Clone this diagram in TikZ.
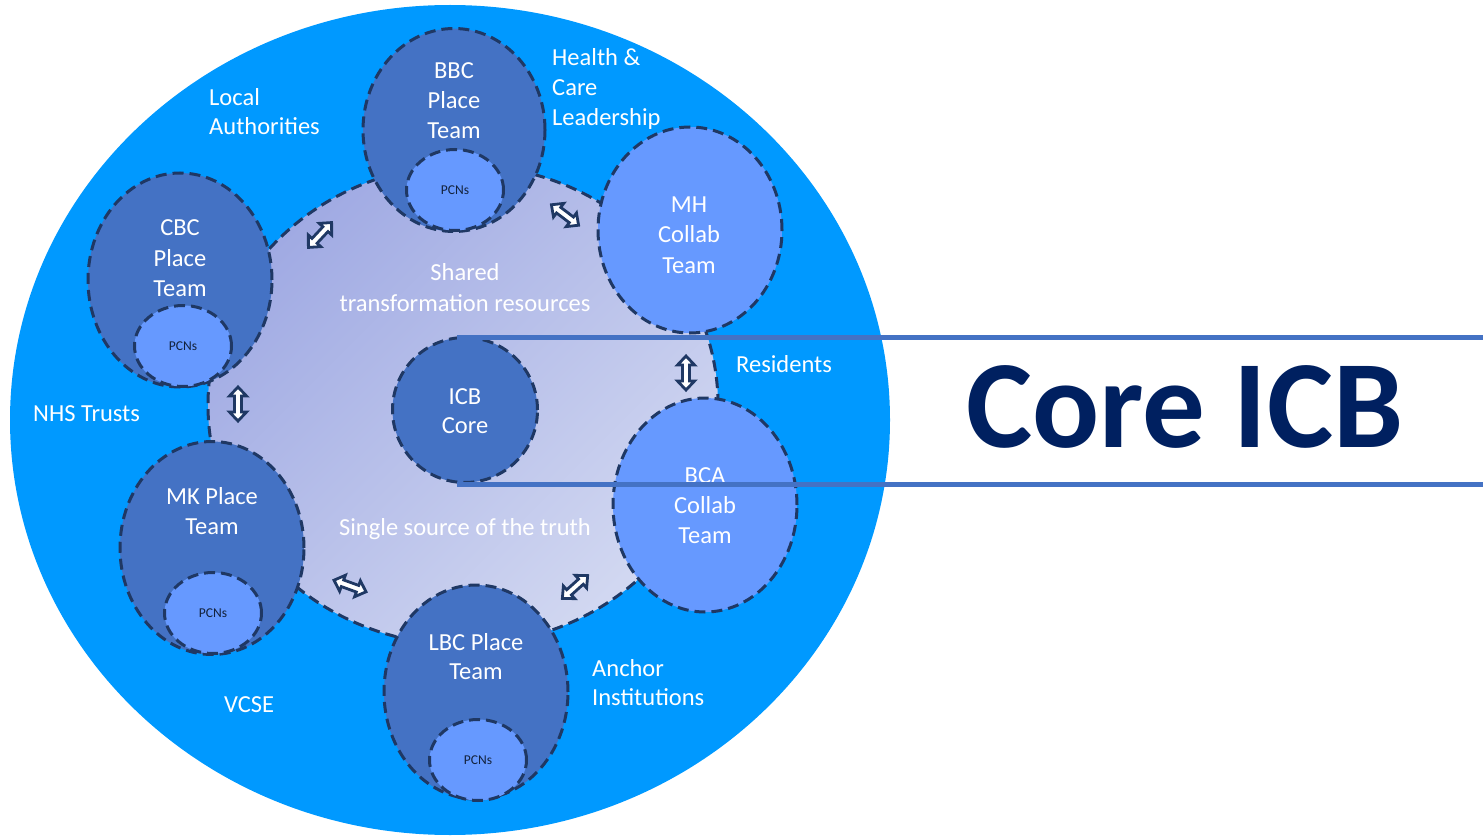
\documentclass[tikz,border=0pt]{standalone}
\usepackage{fontspec}
\setmainfont{Carlito}
\usetikzlibrary{shapes.geometric}
\definecolor{outerblue}{HTML}{0099FF}
\definecolor{darkell}{HTML}{4472C4}
\definecolor{lightell}{HTML}{6699FF}
\definecolor{lavA}{HTML}{A0AAE3}
\definecolor{lavB}{HTML}{D2D8F1}
\definecolor{navyline}{HTML}{1F3864}
\definecolor{titlenavy}{HTML}{002060}
\definecolor{rulecol}{HTML}{4472C4}
\newcommand\dblarrowat[4]{%
  \begin{scope}[shift={(#1,#2)}, rotate=#3]
    \draw[arrowst] (-17,0) -- (-8,-8.5) -- (-8,-3.5) -- (8,-3.5) -- (8,-8.5) -- (17,0)
      -- (8,8.5) -- (8,3.5) -- (-8,3.5) -- (-8,8.5) -- cycle;
    \coordinate (#4) at (0,0);
  \end{scope}}
\begin{document}
\begin{tikzpicture}[x=1pt,y=-1pt,
  dline/.style={draw=navyline, line width=3pt, dash pattern=on 11pt off 6pt},
  darkellipse/.style={ellipse, dline, fill=darkell, inner sep=0pt},
  lightellipse/.style={ellipse, dline, fill=lightell, inner sep=0pt},
  pcn/.style={ellipse, dline, fill=lightell, inner sep=0pt, minimum width=97pt, minimum height=81pt,
    font=\fontsize{13.5}{14}\selectfont, text=navyline!60!black},
  arrowst/.style={draw=navyline, fill=white, line width=2.8pt, line join=miter},
  lbl/.style={text=white, font=\fontsize{24.5}{29.5}\selectfont, inner sep=0pt, anchor=base},
  lblw/.style={lbl, anchor=base west},
  rule/.style={draw=rulecol, line width=5pt}
]
\useasboundingbox (0,0) rectangle (1483,837);
% outer circle
\node[ellipse, fill=outerblue, inner sep=0pt, minimum width=880pt, minimum height=830pt] (outer) at (450,420) {};
% inner shared area
\shade[top color=lavA, bottom color=lavB, shading angle=45] (463,405) ellipse [x radius=255pt, y radius=240pt];
\draw[dline] (463,405) ellipse [x radius=255pt, y radius=240pt];
% core
\node[darkellipse, minimum width=145pt, minimum height=145pt] (icb) at (465,410) {};
% place teams
\node[darkellipse, minimum width=182pt, minimum height=203pt] (bbc) at (454,130) {};
\node[pcn] (bbcp) at (455,190) {PCNs};
\node[darkellipse, minimum width=184pt, minimum height=214pt] (cbc) at (180,280) {};
\node[pcn] (cbcp) at (183,346) {PCNs};
\node[darkellipse, minimum width=184pt, minimum height=213pt] (mk) at (212,548) {};
\node[pcn] (mkp) at (213,613) {PCNs};
\node[darkellipse, minimum width=184pt, minimum height=214pt] (lbc) at (476,692) {};
\node[pcn] (lbcp) at (478,760) {PCNs};
% collab teams
\node[lightellipse, minimum width=184pt, minimum height=206pt] (mh) at (690,230) {};
\node[lightellipse, minimum width=184pt, minimum height=214pt] (bca) at (705,505) {};
% arrows
\dblarrowat{320}{235}{47}{a1}
\dblarrowat{565}{215}{-37}{a2}
\dblarrowat{686}{373}{90}{a3}
\dblarrowat{238}{404}{90}{a4}
\dblarrowat{350}{586}{-20}{a5}
\dblarrowat{575}{587}{42}{a6}
% texts in ellipses
\node[lbl] (t1) at (454,79) {BBC};
\node[lbl] (t2) at (454,109) {Place};
\node[lbl] (t3) at (454,139) {Team};
\node[lbl] (t4) at (180,236) {CBC};
\node[lbl] (t5) at (180,266) {Place};
\node[lbl] (t6) at (180,296) {Team};
\node[lbl] (t7) at (689,213) {MH};
\node[lbl] (t8) at (689,243) {Collab};
\node[lbl] (t9) at (689,273) {Team};
\node[lbl] (t10) at (705,483) {BCA};
\node[lbl] (t11) at (705,513) {Collab};
\node[lbl] (t12) at (705,543) {Team};
\node[lbl] (t13) at (212,504) {MK Place};
\node[lbl] (t14) at (212,534) {Team};
\node[lbl] (t15) at (476,650) {LBC Place};
\node[lbl] (t16) at (476,679) {Team};
\node[lbl] (t17) at (465,404) {ICB};
\node[lbl] (t18) at (465,433) {Core};
\node[lbl] (t19) at (465,280) {Shared};
\node[lbl] (t20) at (465,311) {transformation resources};
\node[lbl] (t21) at (465,535) {Single source of the truth};
% outer labels
\node[lblw] (o1) at (209,106) {Local};
\node[lblw] (o2) at (209,135) {Authorities};
\node[lblw] (o3) at (552,66) {Health \&};
\node[lblw] (o4) at (552,96) {Care};
\node[lblw] (o5) at (552,126) {Leadership};
\node[lblw] (o6) at (736,372) {Residents};
\node[lblw] (o7) at (33,421) {NHS Trusts};
\node[lblw] (o8) at (224,712) {VCSE};
\node[lblw] (o9) at (592,676) {Anchor};
\node[lblw] (o10) at (592,705) {Institutions};
% title rules
\coordinate (r1s) at (457,337);
\coordinate (r1e) at (1483,337);
\coordinate (r2s) at (457,484);
\coordinate (r2e) at (1483,484);
\draw[rule] (r1s) -- (r1e);
\draw[rule] (r2s) -- (r2e);
\node[text=titlenavy, font=\fontsize{125}{125}\selectfont\bfseries, inner sep=0pt, anchor=base] (title) at (1185,447) {Core ICB};
\end{tikzpicture}
\end{document}
